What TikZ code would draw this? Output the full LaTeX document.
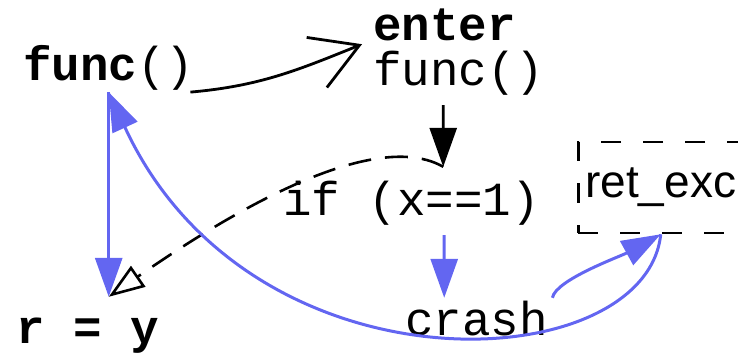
\documentclass[tikz,border=0pt]{standalone}
\usepackage{fontspec}
\setmainfont{Liberation Sans}
\setmonofont{Liberation Mono}
\usepackage{tikz}
\usetikzlibrary{arrows.meta}
\definecolor{flow}{HTML}{6366F1}

\begin{document}
\begin{tikzpicture}[x=1pt,y=-1pt,
  code/.style={font=\fontsize{47.5}{47.5}\selectfont\ttfamily,inner sep=0pt,anchor=base west,
               text height=35.6pt,text depth=11.9pt},
  kw/.style={code,font=\fontsize{47.5}{47.5}\selectfont\ttfamily\bfseries},
  handler/.style={draw,dash pattern=on 20pt off 22pt,line width=2.6pt,anchor=base west,
                  font=\fontsize{46}{46}\selectfont,inner xsep=7pt,inner ysep=0pt,
                  text height=32.5pt,text depth=13.5pt,minimum height=91pt},
  call/.style={-{Straight Barb[length=46pt,width=54pt]},line width=2.8pt},
  ctrl/.style={-{Triangle[length=39pt,width=27pt]},line width=2.8pt},
  fall/.style={dash pattern=on 23pt off 14pt,-{Triangle[open,length=36pt,width=25pt]},line width=2.6pt},
  exc/.style={flow,-{Triangle[length=39pt,width=27pt]},line width=3pt}
]
\useasboundingbox (0,0) rectangle (738,360);
\node[code] (fn) at (23,80) {\textbf{func}()};
\node[kw] (enter) at (373,40) {enter};
\node[code] (callee) at (373,85) {func()};
\node[code] (cond) at (283,215) {if (x==1)};
\node[code] (crash) at (405,335) {crash};
\node[kw] (res) at (16,343) {r = y};
\node[handler] (ret) at (577,197) {ret\_exc};
\coordinate (fork) at ([xshift=31.75pt,yshift=12.4pt]cond.north);
\coordinate (land) at ([yshift=10.4pt]fn.south |- res.north);
\draw[call] ([xshift=-4pt]fn.south east) to[out=5,in=202] ([xshift=-11pt,yshift=7.9pt]enter.south west);
\draw[ctrl] ([xshift=-15.5pt,yshift=-8.1pt]callee.south) -- (fork);
\draw[fall] (fork) .. controls +(-38,-22) and +(212,-147) .. (land);
\draw[exc] (fn.south) -- (land);
\draw[exc] ([xshift=32.75pt,yshift=-8.1pt]cond.south) -- ([xshift=-32.25pt,yshift=1.4pt]crash.north);
\draw[exc] ([xshift=4.5pt,yshift=1.4pt]crash.north east) .. controls +(3,-18) and +(-40,22) .. (ret.south);
\draw[exc] (ret.south) .. controls +(-15,145) and +(142,308) .. (fn.south);
\end{tikzpicture}
\end{document}
